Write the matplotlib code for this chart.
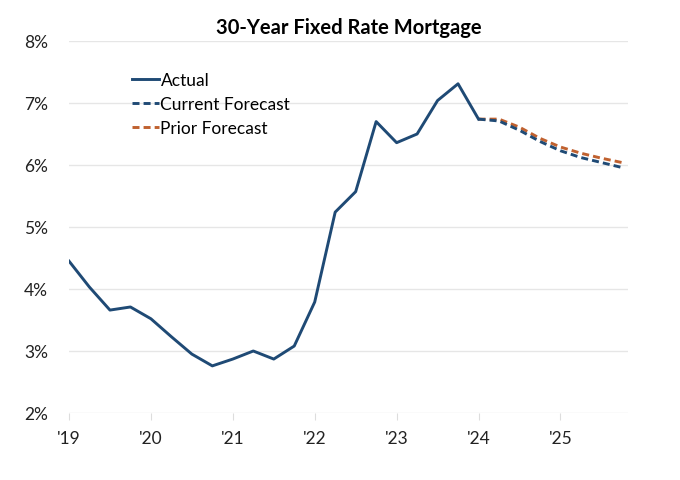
import matplotlib.pyplot as plt
import numpy as np

# quarterly, 2019Q1 .. 2024Q1
actual = [4.45, 4.03, 3.66, 3.71, 3.52, 3.23, 2.95, 2.76, 2.87, 3.00, 2.87, 3.08,
          3.79, 5.24, 5.57, 6.70, 6.36, 6.50, 7.04, 7.31, 6.74]
# 2024Q1 .. 2025Q4
current_fc = [6.74, 6.71, 6.56, 6.38, 6.23, 6.12, 6.04, 5.96]
prior_fc = [6.74, 6.74, 6.61, 6.43, 6.29, 6.19, 6.11, 6.04]
year_labels = ["'19", "'20", "'21", "'22", "'23", "'24", "'25"]
y_ticks = [2, 3, 4, 5, 6, 7, 8]

plt.rcParams['font.family'] = ['Lato', 'DejaVu Sans']

blue = '#1f4a75'
orange = '#c0612f'

fig = plt.figure(figsize=(6.8, 4.81), dpi=100)
ax = fig.add_axes([69/680, 1 - 414/481, (628 - 69)/680, (414 - 42)/481])

x_act = np.arange(len(actual))
x_fc = np.arange(len(actual) - 1, len(actual) - 1 + len(current_fc))

ax.plot(x_act, actual, color=blue, lw=2.1, label='Actual')
ax.plot(x_fc, current_fc, color=blue, lw=2.1, ls=(0, (2.4, 1.4)), label='Current Forecast')
ax.plot(x_fc, prior_fc, color=orange, lw=2.1, ls=(0, (2.4, 1.4)), label='Prior Forecast', zorder=1)

ax.set_xlim(0, 27.3)
ax.set_ylim(2, 8)
ax.set_yticks(y_ticks)
ax.set_yticklabels([f'{v}%' for v in y_ticks])
ax.set_xticks(np.arange(0, 25, 4))
ax.set_xticklabels(year_labels)

ax.grid(axis='y', color='#e6e6e6', lw=1.0)
ax.set_axisbelow(True)
for s in ['top', 'right', 'left', 'bottom']:
    ax.spines[s].set_visible(False)
ax.tick_params(axis='y', length=0, labelsize=12.5, pad=15, colors='#222222')
ax.tick_params(axis='x', length=5, color='#dddddd', labelsize=12.5, pad=7, labelcolor='#222222')

ax.set_title('30-Year Fixed Rate Mortgage', fontsize=14.5, fontweight='bold', pad=6)

leg = ax.legend(loc='upper left', bbox_to_anchor=(0.1, 0.935), frameon=False,
                fontsize=12.5, handlelength=1.55, handletextpad=0.1, labelspacing=0.47,
                borderaxespad=0)

fig.savefig('out.png', dpi=100)
